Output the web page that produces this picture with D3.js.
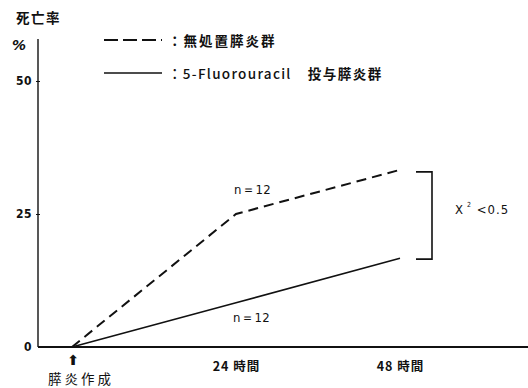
<!DOCTYPE html>
<html><head><meta charset="utf-8">
<script src="https://cdn.jsdelivr.net/npm/d3@7"></script>
<style>body{margin:0;background:#fff}svg{display:block}text{fill:#111}</style>
</head><body>
<script>
const hours = [0, 24, 48];
const xTickLabels = ["24 時間", "48 時間"];
const xTickValues = [24, 48];
const yTicks = [0, 25, 50];
const untreated = [0, 25, 33.3];   // 無処置膵炎群 (dashed)
const fluorouracil = [0, 8.3, 16.7]; // 5-Fluorouracil 投与膵炎群 (solid)
const nLabels = ["n＝12", "n＝12"];

const W = 528, H = 388;
const svg = d3.select("body").append("svg").attr("width", W).attr("height", H);
const font = "'Noto Sans CJK JP', 'DejaVu Sans', sans-serif";
const cond = "'DejaVu Sans Condensed', 'DejaVu Sans', sans-serif";

const x = d3.scaleLinear().domain([0, 48]).range([72, 400]);
const y = d3.scaleLinear().domain([0, 50]).range([347, 81]);

// axes
svg.append("line").attr("x1", 38).attr("x2", 38).attr("y1", 39).attr("y2", y(0)).attr("stroke", "#111").attr("stroke-width", 1.4);
svg.append("line").attr("x1", 38).attr("x2", W).attr("y1", y(0)).attr("y2", y(0)).attr("stroke", "#111").attr("stroke-width", 1.8);

const yAxis = d3.axisLeft(y).tickValues(yTicks).tickSize(2).tickPadding(4);
const gy = svg.append("g").attr("transform", "translate(38,0)").call(yAxis);
gy.select(".domain").remove();
gy.selectAll(".tick line").attr("x2", 2).attr("x1", -2).attr("stroke", "#111");
gy.selectAll("text").attr("font-family", cond).attr("font-weight", "bold").attr("font-size", 12).attr("letter-spacing", 0.5);
gy.selectAll(".tick").filter(d => d === 0).select("line").remove();

const xAxis = d3.axisBottom(x).tickValues(xTickValues).tickSize(0).tickPadding(15).tickFormat((d, i) => xTickLabels[i]);
const gx = svg.append("g").attr("transform", `translate(0,${y(0)})`).call(xAxis);
gx.select(".domain").remove();
gx.selectAll("text").attr("font-family", font).attr("font-weight", "bold").attr("font-size", 12.5).attr("letter-spacing", 1);

// y title
svg.append("text").attr("x", 16).attr("y", 23).text("死亡率").attr("font-family", font).attr("font-weight", "bold").attr("font-size", 13.5).attr("letter-spacing", 1.5);
svg.append("text").attr("x", 12).attr("y", 50).text("%").attr("font-family", "'DejaVu Sans', sans-serif").attr("font-weight", "bold").attr("font-style", "italic").attr("font-size", 14);

// origin marker
svg.append("text").attr("x", x(0) + 1).attr("y", 365).attr("text-anchor", "middle").text("⬆").attr("font-family", "'DejaVu Sans', sans-serif").attr("font-weight", "bold").attr("font-size", 14);
svg.append("text").attr("x", 48).attr("y", 384).text("膵炎作成").attr("font-family", font).attr("font-size", 13.5).attr("letter-spacing", 3);

// lines
const line = d3.line().x((d, i) => x(hours[i])).y(d => y(d));
svg.append("path").datum(untreated).attr("d", line).attr("fill", "none").attr("stroke", "#111").attr("stroke-width", 2).attr("stroke-dasharray", "10,6");
svg.append("path").datum(fluorouracil).attr("d", line).attr("fill", "none").attr("stroke", "#111").attr("stroke-width", 1.6);

// n labels
svg.append("text").attr("x", x(24) - 2).attr("y", y(untreated[1]) - 20).text(nLabels[0]).attr("font-family", cond).attr("font-size", 13).attr("letter-spacing", 0.5);
svg.append("text").attr("x", x(24) - 3).attr("y", y(fluorouracil[1]) + 19).text(nLabels[1]).attr("font-family", cond).attr("font-size", 13).attr("letter-spacing", 0.5);

// bracket
const by1 = y(untreated[2]) + 2, by2 = y(fluorouracil[2]) + 1;
svg.append("path").attr("d", `M416,${by1}H432V${by2}H416`).attr("fill", "none").attr("stroke", "#111").attr("stroke-width", 1.6);
const st = svg.append("text").attr("x", 455).attr("y", 214).attr("font-family", cond).attr("font-size", 13).attr("letter-spacing", 1);
st.append("tspan").text("X");
st.append("tspan").attr("dy", -7).attr("font-size", 7).text(" 2");
st.append("tspan").attr("dy", 7).text(" <0.5");

// legend
svg.append("line").attr("x1", 104).attr("x2", 162).attr("y1", 40).attr("y2", 40).attr("stroke", "#111").attr("stroke-width", 1.8).attr("stroke-dasharray", "14,5");
svg.append("line").attr("x1", 104).attr("x2", 162).attr("y1", 73).attr("y2", 73).attr("stroke", "#111").attr("stroke-width", 1.6);
svg.append("text").attr("x", 168).attr("y", 46).text("：無処置膵炎群").attr("font-family", font).attr("font-weight", "bold").attr("font-size", 13.5).attr("letter-spacing", 2);
svg.append("text").attr("x", 168).attr("y", 79).attr("font-family", font).attr("font-size", 13.5).attr("font-weight", 500)
  .call(t => {
    t.append("tspan").attr("letter-spacing", 1.3).text("：5-Fluorouracil");
    t.append("tspan").attr("dx", 16).attr("font-weight", "bold").attr("letter-spacing", 1.5).text("投与膵炎群");
  });
</script>
</body></html>
